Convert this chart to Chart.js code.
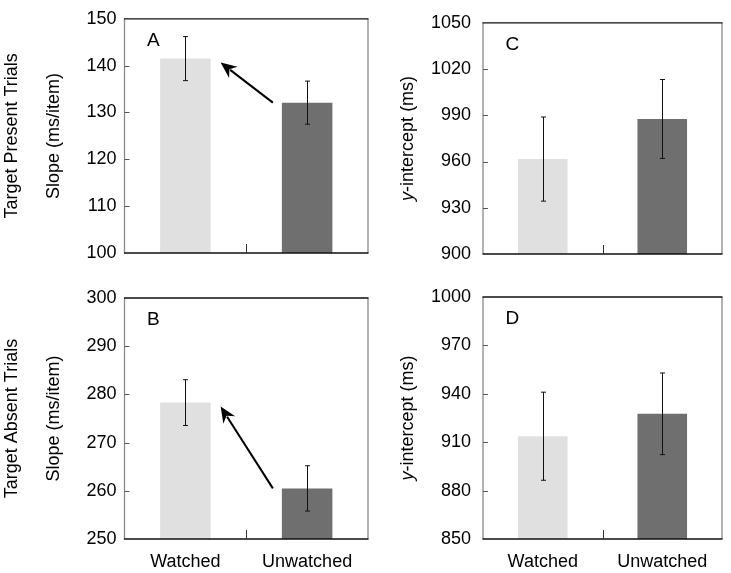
<!DOCTYPE html>
<html>
<head>
<meta charset="utf-8">
<script src="https://cdn.jsdelivr.net/npm/chart.js@4.4.1/dist/chart.umd.min.js"></script>
<style>
  html, body { margin:0; padding:0; background:#fff; }
  #wrap { position:relative; width:731px; height:573px; background:#fff; }
  #wrap canvas { position:absolute; left:0; top:0; }
</style>
</head>
<body>
<div id="wrap">
  <canvas id="cA" width="731" height="573"></canvas>
  <canvas id="cB" width="731" height="573"></canvas>
  <canvas id="cC" width="731" height="573"></canvas>
  <canvas id="cD" width="731" height="573"></canvas>
</div>
<script>
// ---- data ----
const categories = ['Watched', 'Unwatched'];

const presentSlope = [141.5, 132.1];
const presentSlopeErr = [4.7, 4.6];
const presentIntercept = [961.6, 987.6];
const presentInterceptErr = [27.3, 25.6];

const absentSlope = [278.3, 260.5];
const absentSlopeErr = [4.75, 4.7];
const absentIntercept = [913.7, 927.6];
const absentInterceptErr = [27.3, 25.3];

const slopePresentRange = [100, 150, 10];
const slopeAbsentRange = [250, 300, 10];
const interceptPresentRange = [900, 1050, 30];
const interceptAbsentRange = [850, 1000, 30];

const rowLabels = ['Target Present Trials', 'Target Absent Trials'];
const slopeTitle = 'Slope (ms/item)';
const interceptTitle = ['y', '-intercept (ms)'];
const panelLetters = ['A', 'B', 'C', 'D'];

const barColors = ['#e0e0e0', '#6f6f6f'];
const FONT = '"Liberation Sans", Arial, sans-serif';

const overlay = {
  id: 'overlay',
  afterDatasetsDraw(chart) {
    const cfg = chart.options.plugins.overlay;
    const { ctx, chartArea: a, scales: { x, y } } = chart;
    const meta = chart.getDatasetMeta(0);
    ctx.save();
    // error bars
    ctx.strokeStyle = '#111';
    ctx.lineWidth = 1;
    cfg.values.forEach((v, i) => {
      const bx = Math.round(meta.data[i].x) + 0.5;
      const yt = y.getPixelForValue(v + cfg.errors[i]);
      const yb = y.getPixelForValue(v - cfg.errors[i]);
      ctx.beginPath();
      ctx.moveTo(bx, yt); ctx.lineTo(bx, yb);
      ctx.moveTo(bx - 2.5, yt); ctx.lineTo(bx + 2.5, yt);
      ctx.moveTo(bx - 2.5, yb); ctx.lineTo(bx + 2.5, yb);
      ctx.stroke();
    });
    // arrow
    if (cfg.arrow) {
      const b0 = meta.data[0], b1 = meta.data[1];
      const sx = b1.x - b1.width / 2 - 9;
      const sy = b1.y;
      const tx = b0.x + b0.width / 2 + 10;
      const ty = b0.y + 4;
      const ang = Math.atan2(ty - sy, tx - sx);
      const hl = 16, hw = 7;
      const bxp = tx - hl * Math.cos(ang), byp = ty - hl * Math.sin(ang);
      ctx.strokeStyle = '#000';
      ctx.lineWidth = 2;
      ctx.beginPath();
      ctx.moveTo(sx, sy);
      ctx.lineTo(tx - (hl - 4) * Math.cos(ang), ty - (hl - 4) * Math.sin(ang));
      ctx.stroke();
      ctx.fillStyle = '#000';
      ctx.beginPath();
      ctx.moveTo(tx, ty);
      ctx.lineTo(bxp + hw * Math.sin(ang), byp - hw * Math.cos(ang));
      ctx.lineTo(tx - (hl - 5) * Math.cos(ang), ty - (hl - 5) * Math.sin(ang));
      ctx.lineTo(bxp - hw * Math.sin(ang), byp + hw * Math.cos(ang));
      ctx.closePath();
      ctx.fill();
    }
    // frame
    ctx.lineWidth = 1.3;
    ctx.strokeStyle = '#8a8a8a';
    ctx.beginPath();
    ctx.moveTo(a.left, a.top); ctx.lineTo(a.left, a.bottom);
    ctx.moveTo(a.right, a.top); ctx.lineTo(a.right, a.bottom);
    ctx.stroke();
    ctx.strokeStyle = '#111';
    ctx.beginPath();
    ctx.moveTo(a.left - 0.5, a.top); ctx.lineTo(a.right + 0.5, a.top);
    ctx.moveTo(a.left - 0.5, a.bottom); ctx.lineTo(a.right + 0.5, a.bottom);
    ctx.stroke();
    // y ticks inward
    ctx.lineWidth = 1;
    ctx.strokeStyle = '#555';
    y.ticks.forEach(t => {
      if (t.value <= y.min || t.value >= y.max) return;
      const py = Math.round(y.getPixelForValue(t.value)) + 0.5;
      ctx.beginPath(); ctx.moveTo(a.left, py); ctx.lineTo(a.left + 5, py); ctx.stroke();
    });
    // x middle tick
    const mx = Math.round((a.left + a.right) / 2) + 0.5;
    ctx.strokeStyle = '#333';
    ctx.beginPath(); ctx.moveTo(mx, a.bottom); ctx.lineTo(mx, a.bottom - 9); ctx.stroke();
    // panel letter
    ctx.fillStyle = '#000';
    ctx.font = '19px ' + FONT;
    ctx.textAlign = 'left';
    ctx.textBaseline = 'alphabetic';
    ctx.fillText(cfg.letter, a.left + 22.5, a.top + 27);
    // y-axis title(s)
    const cy = (a.top + a.bottom) / 2;
    ctx.textBaseline = 'middle';
    const drawRot = (parts, cx) => {
      ctx.save();
      ctx.translate(cx, cy);
      ctx.rotate(-Math.PI / 2);
      let widths = parts.map(p => { ctx.font = (p.italic ? 'italic ' : '') + '18px ' + FONT; return ctx.measureText(p.text).width; });
      const total = widths.reduce((s, w) => s + w, 0);
      let xx = -total / 2;
      ctx.textAlign = 'left';
      parts.forEach((p, i) => {
        ctx.font = (p.italic ? 'italic ' : '') + '18px ' + FONT;
        ctx.fillText(p.text, xx, 0);
        xx += widths[i];
      });
      ctx.restore();
    };
    drawRot(cfg.title, a.left + cfg.titleOffset);
    if (cfg.rowLabel) drawRot([{ text: cfg.rowLabel }], a.left + cfg.rowOffset);
    ctx.restore();
  }
};

function makeChart(id, values, errors, range, area, opts) {
  const yW = 60, xH = 30;
  return new Chart(document.getElementById(id), {
    type: 'bar',
    data: {
      labels: categories,
      datasets: [{
        data: values,
        backgroundColor: barColors,
        borderWidth: 0,
        barPercentage: 0.415,
        categoryPercentage: 1.0
      }]
    },
    options: {
      responsive: false,
      animation: false,
      events: [],
      layout: {
        padding: {
          left: area.left - yW,
          right: 731 - area.right,
          top: area.top,
          bottom: 573 - area.bottom - xH
        }
      },
      scales: {
        x: {
          grid: { display: false, drawTicks: false },
          border: { display: false },
          ticks: {
            display: opts.showX,
            color: '#000',
            padding: 12,
            font: { family: FONT, size: 18 }
          },
          afterFit(s) { s.height = xH; }
        },
        y: {
          min: range[0], max: range[1],
          grid: { display: false, drawTicks: false },
          border: { display: false },
          ticks: {
            stepSize: range[2],
            color: '#000',
            padding: opts.tickPad,
            font: { family: FONT, size: 18 },
            callback: v => String(v)
          },
          afterFit(s) { s.width = yW; }
        }
      },
      plugins: {
        legend: { display: false },
        tooltip: { enabled: false },
        overlay: {
          values, errors,
          arrow: opts.arrow,
          letter: opts.letter,
          title: opts.title,
          titleOffset: opts.titleOffset,
          rowLabel: opts.rowLabel,
          rowOffset: opts.rowOffset
        }
      }
    },
    plugins: [overlay]
  });
}

const slopeParts = [{ text: slopeTitle }];
const interceptParts = [{ text: interceptTitle[0], italic: true }, { text: interceptTitle[1] }];

makeChart('cA', presentSlope, presentSlopeErr, slopePresentRange,
  { left: 124.5, right: 368, top: 11, bottom: 253 },
  { showX: false, tickPad: 8, arrow: true, letter: panelLetters[0], title: slopeParts, titleOffset: -70, rowLabel: rowLabels[0], rowOffset: -112 });
makeChart('cB', absentSlope, absentSlopeErr, slopeAbsentRange,
  { left: 124.5, right: 368, top: 298, bottom: 539 },
  { showX: true, tickPad: 8, arrow: true, letter: panelLetters[1], title: slopeParts, titleOffset: -70, rowLabel: rowLabels[1], rowOffset: -112 });
makeChart('cC', presentIntercept, presentInterceptErr, interceptPresentRange,
  { left: 483, right: 722, top: 12, bottom: 254 },
  { showX: false, tickPad: 12, arrow: false, letter: panelLetters[2], title: interceptParts, titleOffset: -75 });
makeChart('cD', absentIntercept, absentInterceptErr, interceptAbsentRange,
  { left: 483, right: 722, top: 297, bottom: 539 },
  { showX: true, tickPad: 12, arrow: false, letter: panelLetters[3], title: interceptParts, titleOffset: -75 });
</script>
</body>
</html>
